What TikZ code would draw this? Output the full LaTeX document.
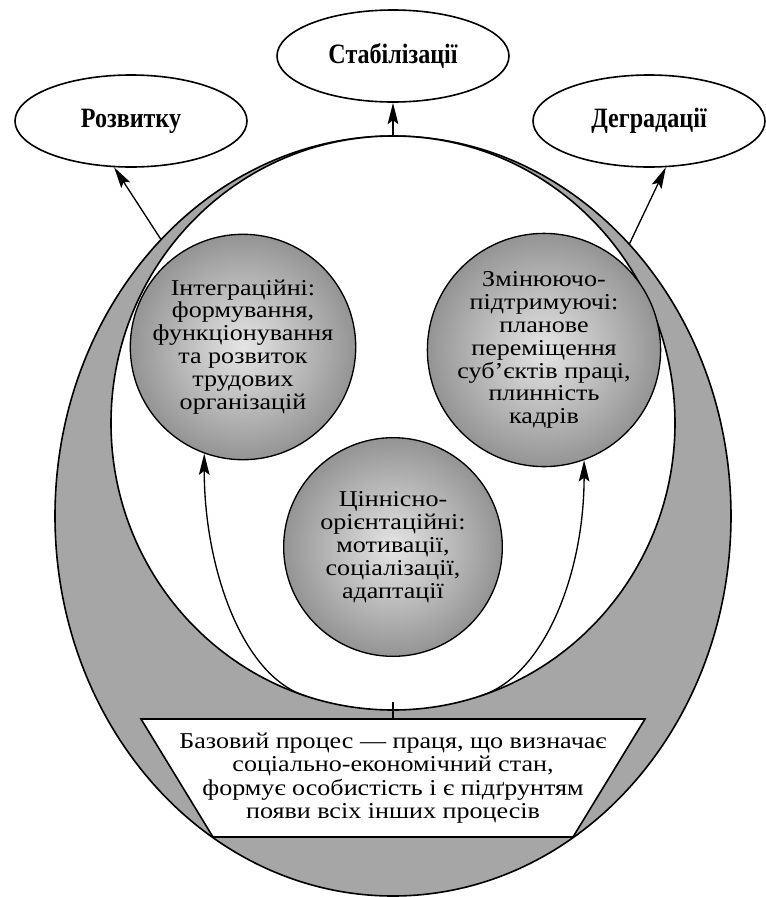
\documentclass[tikz,border=0pt]{standalone}
\usepackage{fontspec}
\setmainfont{Liberation Serif}
\newfontfamily\bodyfont{Liberation Serif}[FakeStretch=1.15]
\newfontfamily\labelfont{Liberation Serif}[FakeStretch=0.86]
\usetikzlibrary{shapes.geometric,arrows.meta}
\tikzset{
  outcome/.style={draw,ellipse,line width=1.2pt,fill=white,minimum width=174pt,minimum height=69pt,inner sep=0pt,font=\labelfont\fontsize{21pt}{22pt}\selectfont\bfseries},
  process/.style={draw,circle,line width=1pt,shading=radial,inner color=black!10,outer color=black!42,minimum size=164pt,inner sep=0pt,align=center,font=\bodyfont\fontsize{17pt}{17.2pt}\selectfont},
  flow/.style={-{Stealth[length=16pt,width=8pt,inset=3pt]},line width=1pt},
}
\begin{document}
\begin{tikzpicture}[x=0.75pt,y=-0.75pt]
\useasboundingbox (0,0) rectangle (766,897);
\node[draw,ellipse,line width=1.2pt,fill=black!35,minimum width=507pt,minimum height=570pt,inner sep=0pt,outer sep=0pt] (shell) at (393,516) {};
\node[draw,ellipse,line width=1.2pt,fill=white,minimum width=423pt,minimum height=430.5pt,inner sep=0pt,outer sep=0pt] (core) at (393,423) {};
\node[process] (integ) at (243,347) {Інтеграційні:\\формування,\\функціонування\\та розвиток\\трудових\\організацій};
\node[process] (change) at (544,350) {Змінюючо-\\підтримуючі:\\планове\\переміщення\\суб’єктів праці,\\плинність\\кадрів};
\node[process] (value) at (393,547) {Ціннісно-\\орієнтаційні:\\мотивації,\\соціалізації,\\адаптації};
\draw[line width=1.2pt,fill=white] (141,719) -- (645,719) -- (573,837) -- (213,837) -- cycle;
\coordinate (basetop) at (393,719);
\node[align=center,font=\bodyfont\fontsize{17pt}{17.6pt}\selectfont] (base) at (393,778) {Базовий процес — праця, що визначає\\соціально-економічний стан,\\формує особистість і є підґрунтям\\появи всіх інших процесів};
\draw[line width=1pt] (basetop) -- ([yshift=6pt]core.south);
\node[outcome] (rozv) at (131,121) {Розвитку};
\node[outcome] (stab) at (393,56) {Стабілізації};
\node[outcome] (degr) at (649,121) {Деградації};
\draw[flow] (shell.130) -- (rozv.250);
\draw[flow] (core.north) -- (stab.south);
\draw[flow] (shell.49) -- (degr.290);
\draw[flow] (core.252) .. controls +(-62,-20) and +(0,115) .. (integ.250);
\draw[flow] (core.288) .. controls +(62,-20) and +(0,115) .. (change.290);
\end{tikzpicture}
\end{document}
